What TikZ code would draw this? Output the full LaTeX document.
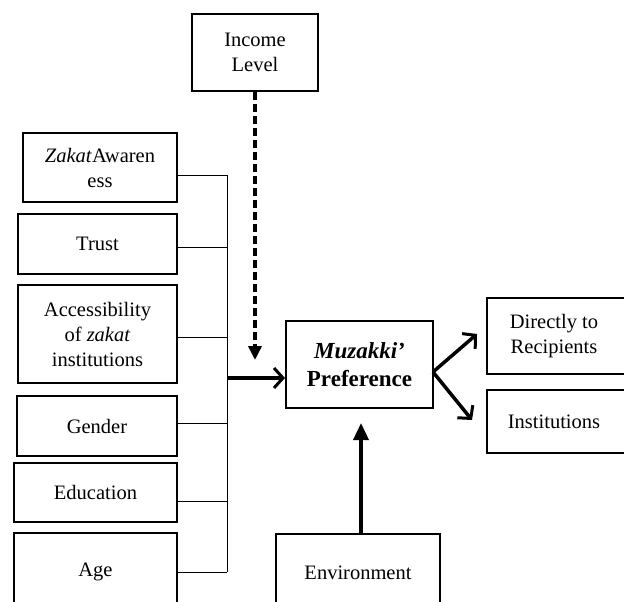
\documentclass[tikz,border=0pt]{standalone}
\usepackage{fontspec}
\setmainfont{Liberation Serif}
\usetikzlibrary{arrows.meta}

\tikzset{
  box/.style={draw, line width=2pt, align=center, inner sep=2pt,
    font=\fontsize{20.5}{25}\selectfont},
  link/.style={line width=1pt},
  flow/.style={line width=3.5pt, -{Straight Barb[length=9pt,width=20pt,line width=3pt]}},
  dashline/.style={line width=3.5pt, dash pattern=on 8pt off 4pt,
    -{Triangle[length=14pt,width=13pt]}},
  push/.style={line width=3.5pt, -{Triangle[length=17pt,width=15pt]}},
}

\begin{document}
\begin{tikzpicture}[x=1pt,y=-1pt]
  \clip (0,0) rectangle (624,602);
  % top
  \node[box, minimum width=126pt, minimum height=77pt] (income) at (255,52.5) {Income\\Level};
  % left column
  \node[box, minimum width=154pt, minimum height=69pt] (zakat) at (100,167.5) {\textit{Zakat}Awaren\\ess};
  \node[box, minimum width=159pt, minimum height=60pt] (trust) at (97.5,244) {Trust};
  \node[box, minimum width=159pt, minimum height=98pt] (access) at (97.5,334) {Accessibility\\of \textit{zakat}\\institutions};
  \node[box, minimum width=160pt, minimum height=60pt] (gender) at (97,426) {Gender};
  \node[box, minimum width=163pt, minimum height=59pt] (educ) at (95.5,492.5) {Education};
  \node[box, minimum width=163pt, minimum height=78pt] (age) at (95.5,572) {Age};
  % middle
  \node[box, minimum width=147pt, minimum height=87pt, font=\fontsize{23}{28}\selectfont] (muz) at (359.5,364.5) {\textbf{\textit{Muzakki’}}\\\textbf{Preference}};
  \node[box, minimum width=164pt, minimum height=78pt] (env) at (358,573) {Environment};
  % right
  \node[box, minimum width=170pt, minimum height=76pt] (direct) at (572,336) {\hspace*{-36pt}Directly to\\\hspace*{-36pt}Recipients};
  \node[box, minimum width=170pt, minimum height=63pt] (inst) at (572,421.5) {\hspace*{-36pt}Institutions};

  % bus on the left
  \coordinate (bustop) at (227,175);
  \coordinate (busbot) at (227,572);
  \foreach \n/\d in {zakat/-7.5,trust/-3,access/-3,gender/3,educ/-8.5,age/0}
    \draw[link] ([yshift=\d pt]\n.east) coordinate (t) -- (t -| bustop);
  \draw[link] (bustop) -- (busbot);
  \coordinate (join) at (227,378);
  \draw[flow] (join) -- (join -| muz.west);

  % income level (dashed)
  \coordinate (itip) at (255,360);
  \draw[dashline] (income.south) -- (itip);

  % environment
  \coordinate (etip) at (361,423);
  \draw[push] (etip |- env.north) -- (etip);

  % outcomes
  \coordinate (fork) at (433,372);
  \coordinate (dtip) at (477,334);
  \coordinate (itip2) at (472,420);
  \draw[flow] (fork) -- (dtip);
  \draw[flow] (fork) -- (itip2);
\end{tikzpicture}
\end{document}
